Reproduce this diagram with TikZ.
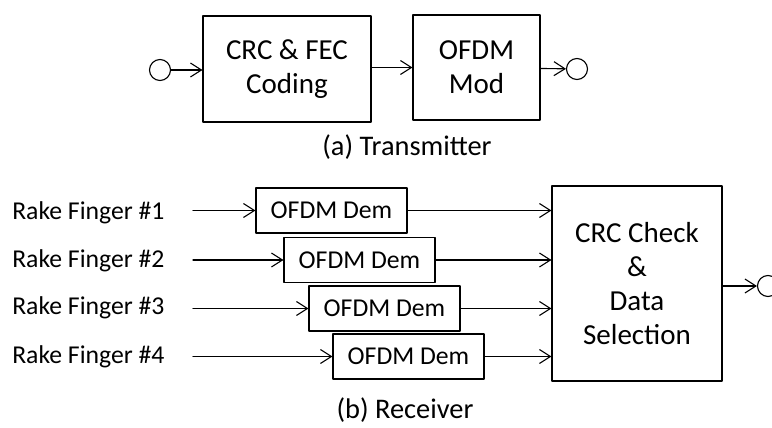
\documentclass[tikz,border=0pt]{standalone}
\usepackage{fontspec}
\setmainfont{Carlito}
\usetikzlibrary{arrows.meta,positioning}
\begin{document}
\begin{tikzpicture}[x=1pt,y=-1pt,line width=1.1pt,line cap=round,line join=round,
  >={Straight Barb[length=11pt,width=14pt]},
  blk/.style={draw,align=center,inner sep=0pt,font=\fontsize{29}{34}\selectfont},
  dem/.style={draw,minimum width=151pt,minimum height=45pt,inner sep=0pt,font=\fontsize{25.7}{30}\selectfont},
  port/.style={draw,circle,minimum size=21pt,inner sep=0pt},
  lbl/.style={anchor=east,inner sep=0pt,font=\fontsize{25.7}{30}\selectfont}]
\useasboundingbox (0,0) rectangle (772,428);
% transmitter
\node[port] (in) at (160,70) {};
\node[blk,minimum width=168pt,minimum height=106pt] (fec) at (287,69) {CRC \& FEC\\Coding};
\node[blk,minimum width=127pt,minimum height=105pt] (mod) at (476.5,67.5) {OFDM\\Mod};
\node[port] (out) at (577,69) {};
\draw[->] (in) -- (in -| fec.west);
\draw[->] (fec.east |- mod) -- (mod);
\draw[->] (mod) -- (out);
\node[font=\fontsize{28.4}{34}\selectfont] (capa) at (407,147) {(a) Transmitter};
% receiver
\node[blk,minimum width=170pt,minimum height=195pt] (sel) at (637,283.5) {CRC Check\\\&\\Data\\Selection};
\node[port] (rxout) at (768,286) {};
\draw[->] (sel.east |- rxout) -- (rxout);
\foreach \i/\x/\y/\ly in {1/331.5/210.5/213,2/359.5/260/261,3/384.5/308.5/308,4/408.5/356.5/357}{
  \node[lbl] (rk\i) at (165,\ly) {Rake Finger \#\i};
  \node[dem] (dem\i) at (\x,\y) {OFDM Dem};
  \draw[->] ([xshift=28pt]rk\i.east |- dem\i) -- (dem\i);
  \draw[->] (dem\i) -- (dem\i -| sel.west);
}
\node[font=\fontsize{28.4}{34}\selectfont] (capb) at (405,410) {(b) Receiver};
\end{tikzpicture}
\end{document}
